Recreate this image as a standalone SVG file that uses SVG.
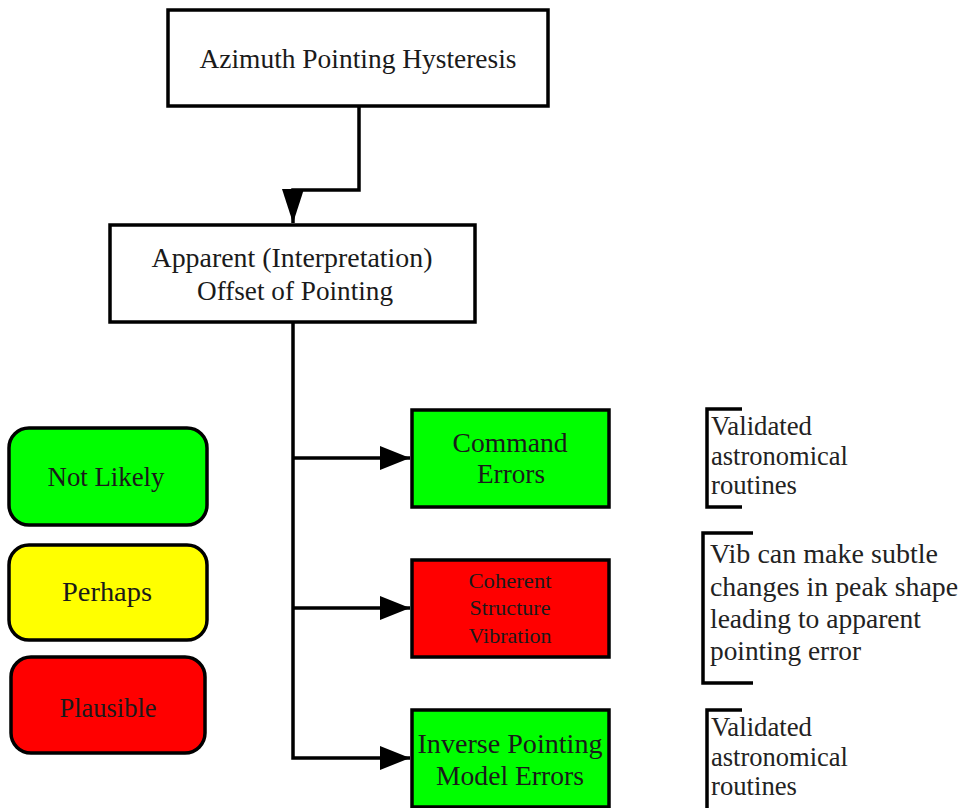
<svg xmlns="http://www.w3.org/2000/svg" width="963" height="808" viewBox="0 0 963 808">
<style>
.box{stroke:#000;stroke-width:3.5}
.t{fill:#1a1a1a;text-anchor:middle;font-family:"Liberation Serif","DejaVu Serif",serif;font-size:27px}
.s{font-size:22px}
.n{fill:#222;font-family:"Liberation Serif","DejaVu Serif",serif;font-size:27px}
.c{fill:none;stroke:#000;stroke-width:3.5}
.br{fill:none;stroke:#000;stroke-width:3.5}
</style>
<defs>
<marker id="ah" markerUnits="userSpaceOnUse" markerWidth="32" markerHeight="26" refX="30" refY="12" orient="auto">
<polygon points="0,0 30,12 0,24" fill="#000"/>
</marker>
<marker id="ahd" markerUnits="userSpaceOnUse" markerWidth="36" markerHeight="24" refX="34" refY="11" orient="auto">
<polygon points="0,0 34,11 0,22" fill="#000"/>
</marker>
</defs>
<rect width="963" height="808" fill="#fff"/>
<g id="connectors">
<path class="c" d="M359,106 V190 H293 V223" marker-end="url(#ahd)"/>
<path class="c" d="M293,322 V758 H410" marker-end="url(#ah)"/>
<path class="c" d="M293,458 H410" marker-end="url(#ah)"/>
<path class="c" d="M293,608 H410" marker-end="url(#ah)"/>
</g>
<g id="azimuth">
<rect class="box" x="168" y="10" width="380" height="96" fill="#fff"/>
<text class="t" x="358" y="68" textLength="317" lengthAdjust="spacingAndGlyphs">Azimuth Pointing Hysteresis</text>
</g>
<g id="apparent">
<rect class="box" x="110" y="225" width="365" height="97" fill="#fff"/>
<text class="t" x="292" y="267" textLength="281" lengthAdjust="spacingAndGlyphs">Apparent (Interpretation)</text>
<text class="t" x="295" y="300" textLength="196" lengthAdjust="spacingAndGlyphs">Offset of Pointing</text>
</g>
<g id="command">
<rect class="box" x="412" y="410" width="197" height="97" fill="#00ff00"/>
<text class="t" x="510" y="452" textLength="115" lengthAdjust="spacingAndGlyphs">Command</text>
<text class="t" x="511" y="483" textLength="68" lengthAdjust="spacingAndGlyphs">Errors</text>
</g>
<g id="coherent">
<rect class="box" x="412" y="560" width="197" height="97" fill="#ff0000"/>
<text class="t s" x="510" y="588" textLength="83" lengthAdjust="spacingAndGlyphs">Coherent</text>
<text class="t s" x="510" y="615" textLength="81" lengthAdjust="spacingAndGlyphs">Structure</text>
<text class="t s" x="510" y="643" textLength="83" lengthAdjust="spacingAndGlyphs">Vibration</text>
</g>
<g id="inverse">
<rect class="box" x="412" y="710" width="197" height="97" fill="#00ff00"/>
<text class="t" x="510" y="753" textLength="185" lengthAdjust="spacingAndGlyphs">Inverse Pointing</text>
<text class="t" x="510" y="785" textLength="148" lengthAdjust="spacingAndGlyphs">Model Errors</text>
</g>
<g id="notlikely">
<rect class="box" x="9" y="428" width="198" height="97" rx="20" fill="#00ff00"/>
<text class="t" x="106" y="486" textLength="117" lengthAdjust="spacingAndGlyphs">Not Likely</text>
</g>
<g id="perhaps">
<rect class="box" x="9" y="545" width="198" height="95" rx="20" fill="#ffff00"/>
<text class="t" x="107" y="601" textLength="90" lengthAdjust="spacingAndGlyphs">Perhaps</text>
</g>
<g id="plausible">
<rect class="box" x="11" y="657" width="194" height="96" rx="20" fill="#ff0000"/>
<text class="t" x="108" y="717" textLength="97" lengthAdjust="spacingAndGlyphs">Plausible</text>
</g>
<g id="note1">
<path class="br" d="M742,409 H707 V507 H742"/>
<text class="n" x="711" y="435" textLength="101" lengthAdjust="spacingAndGlyphs">Validated</text>
<text class="n" x="711" y="465" textLength="137" lengthAdjust="spacingAndGlyphs">astronomical</text>
<text class="n" x="711" y="494" textLength="86" lengthAdjust="spacingAndGlyphs">routines</text>
</g>
<g id="note2">
<path class="br" d="M753,533 H703 V683 H753"/>
<text class="n" x="710" y="563" textLength="228" lengthAdjust="spacingAndGlyphs">Vib can make subtle</text>
<text class="n" x="710" y="596" textLength="248" lengthAdjust="spacingAndGlyphs">changes in peak shape</text>
<text class="n" x="710" y="628" textLength="211" lengthAdjust="spacingAndGlyphs">leading to apparent</text>
<text class="n" x="710" y="660" textLength="151" lengthAdjust="spacingAndGlyphs">pointing error</text>
</g>
<g id="note3">
<path class="br" d="M742,710 H707 V810"/>
<text class="n" x="711" y="736" textLength="101" lengthAdjust="spacingAndGlyphs">Validated</text>
<text class="n" x="711" y="766" textLength="137" lengthAdjust="spacingAndGlyphs">astronomical</text>
<text class="n" x="711" y="795" textLength="86" lengthAdjust="spacingAndGlyphs">routines</text>
</g>
</svg>
